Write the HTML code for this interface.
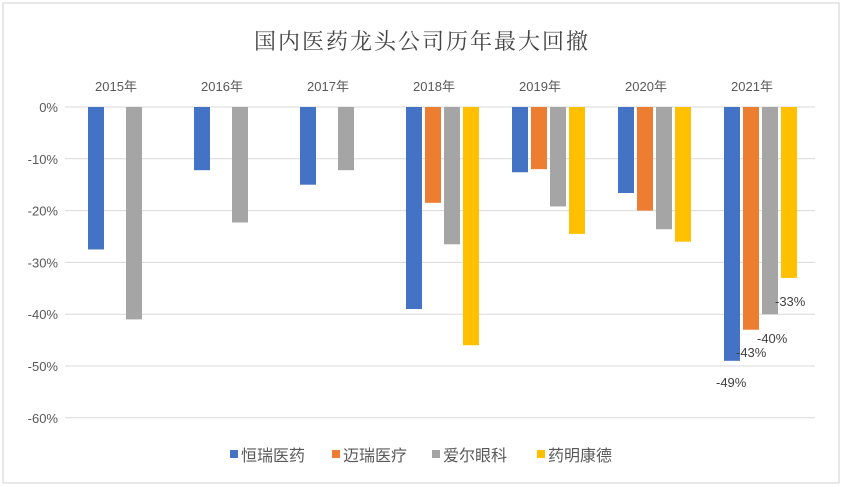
<!DOCTYPE html>
<html><head><meta charset="utf-8"><style>
body{margin:0;background:#fff;}
svg{display:block;font-family:"Liberation Sans","Noto Sans CJK SC",sans-serif;}
</style></head><body>
<svg id="c" width="843" height="487">
<rect x="3" y="3" width="836" height="480" fill="#fff" stroke="#d0d0d0"/>
<text x="422" y="49" text-anchor="middle" font-size="22" fill="#444" font-family="'Noto Serif CJK SC',serif" letter-spacing="2">国内医药龙头公司历年最大回撤</text>
<g id="grid"></g><g id="bars"></g><g id="labels"></g>
<g id="legend"></g>
</svg>
<script>
const years=["2015年","2016年","2017年","2018年","2019年","2020年","2021年"];
const seriesNames=["恒瑞医药","迈瑞医疗","爱尔眼科","药明康德"];
const hengrui=[-27.5,-12.2,-15,-39,-12.6,-16.6,-49];
const mindray=[null,null,null,-18.5,-12,-20,-43];
const aier=[-41,-22.3,-12.2,-26.5,-19.2,-23.6,-40];
const wuxi=[null,null,null,-46,-24.5,-26,-33];
const yTicks=[0,-10,-20,-30,-40,-50,-60];
const lastLabels=["-49%","-43%","-40%","-33%"];
const colors=["#4472c4","#ed7d31","#a5a5a5","#ffc000"];
const NS="http://www.w3.org/2000/svg";
const y=v=>107+(-v)*5.18;
const gx=i=>82+i*106;
function mk(t,a,p){const e=document.createElementNS(NS,t);for(const k in a)e.setAttribute(k,a[k]);p.appendChild(e);return e;}
const grid=document.getElementById('grid');
yTicks.forEach(t=>{
 const l=mk('line',{x1:65,x2:815,y1:y(t),y2:y(t),stroke:'#d9d9d9'},grid);
 
 
 const tx=mk('text',{x:58,y:y(t)+5,'text-anchor':'end','font-size':13,fill:'#595959'},grid);
 tx.textContent=t+'%';
 
 
});
years.forEach((yr,i)=>{
 const tx=mk('text',{x:gx(i)+34,y:91,'text-anchor':'middle','font-size':13,fill:'#595959'},grid);
 tx.textContent=yr;
 
 
});
const bars=document.getElementById('bars');
[hengrui,mindray,aier,wuxi].forEach((s,si)=>{
 s.forEach((v,i)=>{
  if(v==null)return;
  const r=mk('rect',{x:gx(i)+6+si*19,y:y(0),width:16,height:y(v)-y(0),fill:colors[si]},bars);
  
  
 });
});
const lab=document.getElementById('labels');
const lpos=[[716,387],[736,357],[757,343],[775,306]];
lastLabels.forEach((t,k)=>{
 const tx=mk('text',{x:lpos[k][0],y:lpos[k][1],'font-size':13,fill:'#404040'},lab);
 tx.textContent=t;
 
 
});
const lg=document.getElementById('legend');
const lx=[230,332,432,537];
seriesNames.forEach((n,k)=>{
 const r=mk('rect',{x:lx[k],y:450,width:8,height:8,fill:colors[k]},lg);
 
 
 const tx=mk('text',{x:lx[k]+11,y:461,'font-size':16,fill:'#595959'},lg);
 tx.textContent=n;
 
 
});
</script>
</body></html>
